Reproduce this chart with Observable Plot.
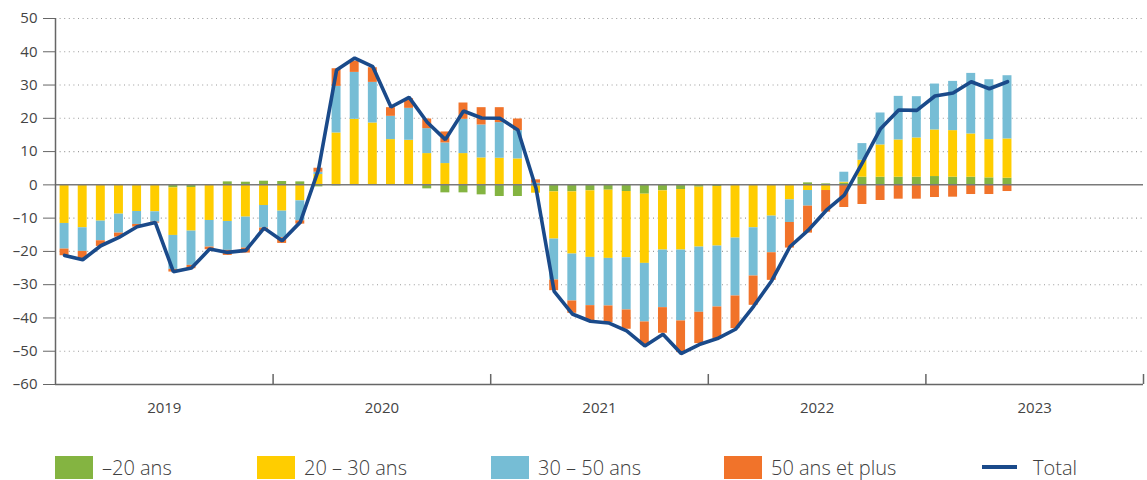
<!DOCTYPE html>
<html>
<head>
<meta charset="utf-8">
<script src="https://cdn.jsdelivr.net/npm/d3@7"></script>
<script src="https://cdn.jsdelivr.net/npm/@observablehq/plot@0.6"></script>
<style>
  html, body { margin: 0; padding: 0; background: #fff; }
  #chart svg { display: block; }
  #legend { position: relative; width: 1147px; height: 35px; font-family: "Open Sans", sans-serif; font-size: 20px; font-weight: 300; color: #404040; }
  .item { position: absolute; top: 10px; height: 24px; display: flex; align-items: center; white-space: nowrap; }
  .sw { width: 38px; height: 23px; margin-right: 9px; }
  .ln { width: 35px; height: 4px; margin-right: 16px; }
</style>
</head>
<body>
<div id="chart"></div>
<div id="legend"></div>
<script>
// ---- data (monthly, Jan 2019 – May 2023) ----
const years = ["2019", "2020", "2021", "2022", "2023"];
const seriesNames = ["–20 ans", "20 – 30 ans", "30 – 50 ans", "50 ans et plus"];
const seriesColors = ["#84b441", "#ffcd00", "#76bdd5", "#f1732a"];
const totalName = "Total";
const totalColor = "#1a4a8a";

const green = [0, 0, 0, 0, 0, 0, -0.9, -0.8, 0, 0.9, 0.8, 1.1,
  1.0, 0.9, -0.6, -0.3, 0, 0, 0, 0, -1.2, -2.4, -2.4, -3.0,
  -3.5, -3.5, -0.3, -2.1, -2.1, -1.8, -1.6, -2.0, -2.8, -1.8, -1.4, -0.7,
  -0.5, 0, 0, 0, 0, 0.6, 0.3, 0.5, 2.3, 2.3, 2.3, 2.3,
  2.5, 2.3, 2.3, 2.1, 2.0];
const yellow = [-11.6, -12.9, -10.9, -8.8, -8.0, -8.1, -14.3, -13.1, -10.7, -11.0, -9.7, -6.2,
  -7.9, -4.8, 3.1, 15.6, 19.7, 18.6, 13.6, 13.4, 9.4, 6.4, 9.4, 8.1,
  8.0, 7.8, -2.2, -14.2, -18.7, -20.0, -20.5, -19.9, -20.8, -17.8, -18.2, -18.0,
  -17.9, -16.0, -12.9, -9.4, -4.5, -1.7, -1.7, 0.3, 5.1, 9.7, 11.2, 11.8,
  14.0, 14.0, 13.0, 11.5, 11.8];
const blue = [-7.7, -7.1, -5.9, -5.7, -3.9, -3.1, -10.2, -10.3, -8.0, -8.7, -9.3, -6.8,
  -8.0, -6.0, 0.7, 14.0, 14.1, 12.2, 7.0, 9.6, 7.5, 6.2, 10.3, 9.9,
  10.7, 8.5, 0.5, -12.3, -14.1, -14.5, -14.3, -15.7, -17.6, -17.3, -21.3, -19.6,
  -18.3, -17.4, -14.5, -11.0, -6.8, -4.7, 0, 3.0, 5.0, 9.6, 13.1, 12.4,
  13.8, 14.8, 18.2, 18.0, 19.0];
const orange = [-2.0, -2.3, -1.7, -1.2, -0.8, -0.3, -0.8, -1.0, -0.8, -1.5, -1.5, -1.0,
  -1.7, -1.0, 1.2, 5.3, 3.4, 4.4, 2.6, 2.9, 2.9, 3.3, 4.9, 5.2,
  4.5, 3.5, 1.0, -3.2, -3.7, -4.5, -5.0, -5.8, -6.9, -7.7, -9.5, -9.4,
  -9.5, -9.8, -8.8, -8.3, -7.7, -8.1, -6.5, -6.8, -5.9, -4.7, -4.3, -4.3,
  -3.8, -3.7, -2.9, -2.9, -2.0];
const total = [-21.2, -22.5, -18.3, -15.8, -12.6, -11.3, -26.1, -25.0, -19.3, -20.3, -19.7, -13.0,
  -16.8, -11.2, 4.5, 34.5, 38.1, 35.5, 23.4, 26.3, 18.8, 13.6, 22.2, 20.1,
  20.0, 16.5, -1.0, -32.0, -38.8, -41.0, -41.5, -43.9, -48.4, -44.9, -50.7, -48.0,
  -46.2, -43.4, -36.5, -28.8, -18.6, -13.7, -7.7, -3.1, 6.7, 16.9, 22.5, 22.4,
  26.7, 27.6, 31.0, 28.9, 31.0];
const yTicks = [-60, -50, -40, -30, -20, -10, 0, 10, 20, 30, 40, 50];

// ---- tables built from the arrays ----
const seriesValues = [green, yellow, blue, orange];
const nMonths = total.length;
const nSlots = years.length * 12;
const bars = [];
for (let i = 0; i < nMonths; i++) {
  seriesValues.forEach((vals, k) => bars.push({x1: i, x2: i + 1, series: seriesNames[k], value: vals[i]}));
}
const line = total.map((v, i) => ({x: i + 0.5, total: v}));
const yearCenters = years.map((y, k) => k * 12 + 6);
const yearBounds = years.map((y, k) => (k + 1) * 12);
const fmt = d => d < 0 ? "–" + Math.abs(d) : String(d);

const chart = Plot.plot({
  width: 1147,
  height: 445,
  marginLeft: 55,
  marginRight: 4,
  marginTop: 18,
  marginBottom: 61,
  style: {fontFamily: "'Open Sans', sans-serif", fontSize: "15px", color: "#444", background: "#fff"},
  x: {domain: [0, nSlots]},
  y: {domain: [-60, 50]},
  color: {domain: seriesNames, range: seriesColors},
  marks: [
    Plot.ruleY(yTicks.filter(d => d !== 0 && d !== -60), {x1: 0, x2: nSlots, stroke: "#9a9a9a", strokeWidth: 1.1, strokeDasharray: "1,3.6"}),
    Plot.rectY(bars, Plot.stackY({x1: "x1", x2: "x2", y: "value", fill: "series", insetLeft: 4.6, insetRight: 4.6})),
    Plot.ruleY([0], {x1: 0, x2: nSlots, stroke: "#7a7a7a", strokeWidth: 1.5}),
    Plot.lineY(line, {x: "x", y: "total", stroke: totalColor, strokeWidth: 3.6, strokeLinejoin: "miter"}),
    Plot.ruleX([0], {y1: -60, y2: 50, stroke: "#666", strokeWidth: 1.5}),
    Plot.ruleY([-60], {x1: 0, x2: nSlots, stroke: "#666", strokeWidth: 1.5}),
    Plot.ruleX(yearBounds, {y1: -60, y2: -57, stroke: "#666", strokeWidth: 1.5}),
    Plot.axisY({ticks: yTicks, tickSize: 12, tickPadding: 6, tickFormat: fmt, stroke: "#666", fill: "#444", fontSize: 15}),
    Plot.axisX({ticks: yearCenters, tickSize: 0, tickPadding: 18, tickFormat: d => years[(d - 6) / 12], fill: "#444", fontSize: 15})
  ]
});
document.getElementById("chart").appendChild(chart);

// ---- legend ----
const legend = document.getElementById("legend");
const lefts = [55, 257, 491, 724];
seriesNames.forEach((name, k) => {
  const it = document.createElement("div");
  it.className = "item";
  it.style.left = lefts[k] + "px";
  it.innerHTML = `<span class="sw" style="background:${seriesColors[k]}"></span><span>${name}</span>`;
  legend.appendChild(it);
});
const tl = document.createElement("div");
tl.className = "item";
tl.style.left = "982px";
tl.innerHTML = `<span class="ln" style="background:${totalColor}"></span><span>${totalName}</span>`;
legend.appendChild(tl);
</script>
</body>
</html>
